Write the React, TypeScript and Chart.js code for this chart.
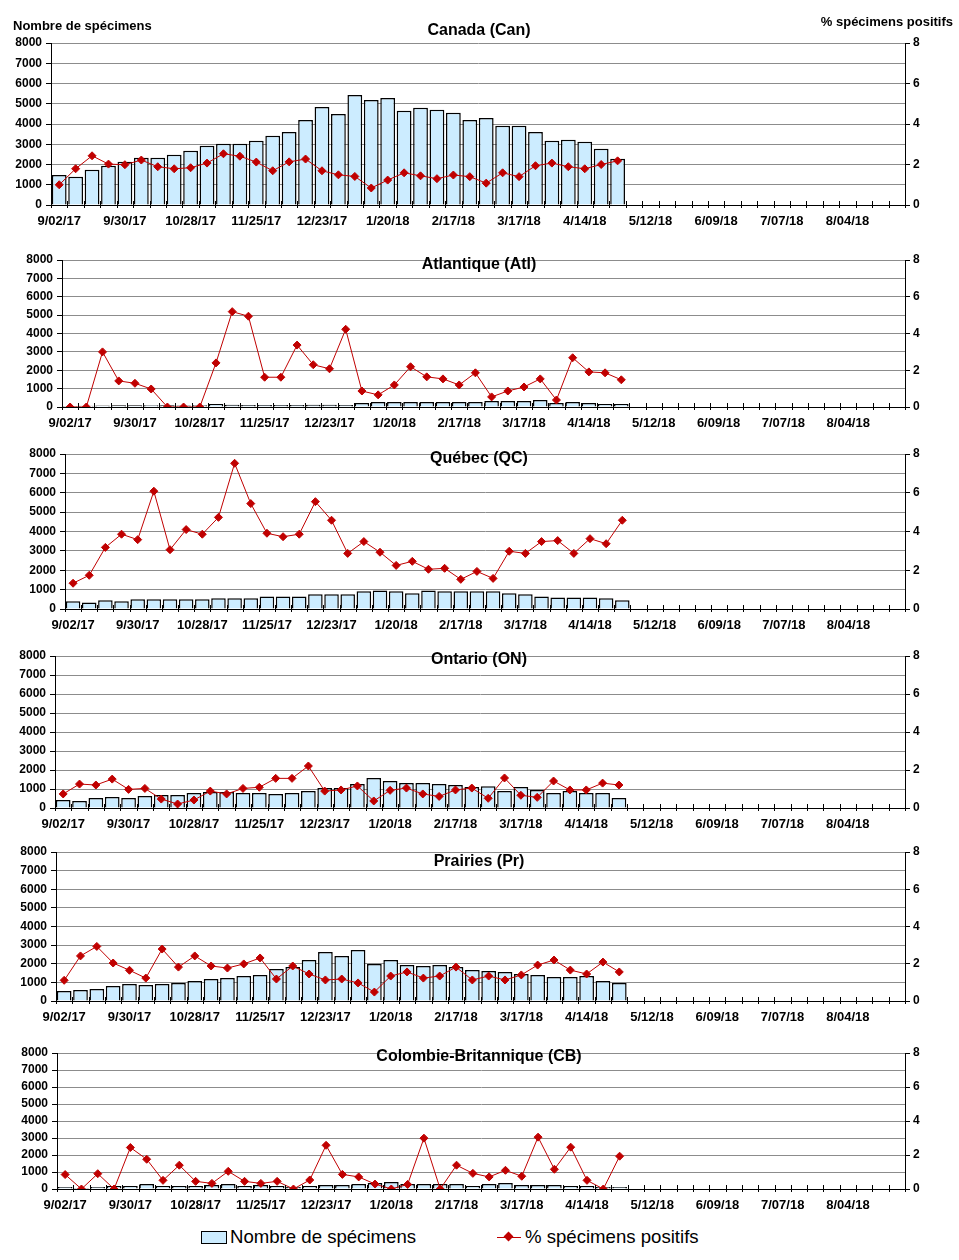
import React, { useEffect, useRef } from "react";
import { Chart, registerables } from "chart.js";

Chart.register(...registerables);

// ---- Categories (weeks) ----
const weeks = [
  "9/02/17", "9/09/17", "9/16/17", "9/23/17", "9/30/17", "10/07/17", "10/14/17", "10/21/17",
  "10/28/17", "11/04/17", "11/11/17", "11/18/17", "11/25/17", "12/02/17", "12/09/17", "12/16/17",
  "12/23/17", "12/30/17", "1/06/18", "1/13/18", "1/20/18", "1/27/18", "2/03/18", "2/10/18",
  "2/17/18", "2/24/18", "3/03/18", "3/10/18", "3/17/18", "3/24/18", "3/31/18", "4/07/18",
  "4/14/18", "4/21/18", "4/28/18", "5/05/18", "5/12/18", "5/19/18", "5/26/18", "6/02/18",
  "6/09/18", "6/16/18", "6/23/18", "6/30/18", "7/07/18", "7/14/18", "7/21/18", "7/28/18",
  "8/04/18", "8/11/18", "8/18/18", "8/25/18",
];

// ---- Series values ----
const canCounts = [1480, 1400, 1740, 1940, 2130, 2330, 2330, 2480, 2680, 2920, 3020, 3020, 3170, 3420, 3610, 4200, 4840, 4500, 5435, 5190, 5290, 4650, 4800, 4700, 4550, 4200, 4300, 3910, 3910, 3610, 3170, 3220, 3120, 2775, 2280];
const canPct = [1.0, 1.79, 2.43, 2.02, 1.99, 2.22, 1.89, 1.79, 1.84, 2.07, 2.53, 2.41, 2.12, 1.69, 2.13, 2.27, 1.69, 1.49, 1.41, 0.84, 1.23, 1.59, 1.44, 1.3, 1.48, 1.4, 1.08, 1.59, 1.4, 1.94, 2.07, 1.89, 1.79, 2.0, 2.18];

const atlCounts = [60, 70, 80, 90, 90, 100, 90, 80, 100, 170, 120, 110, 110, 110, 110, 120, 120, 110, 220, 270, 270, 270, 270, 270, 270, 270, 330, 330, 330, 380, 220, 270, 220, 160, 160];
const atlPct = [0, 0, 3.0, 1.42, 1.29, 0.98, 0, 0, 0, 2.4, 5.19, 4.94, 1.62, 1.62, 3.37, 2.3, 2.08, 4.23, 0.87, 0.66, 1.2, 2.19, 1.64, 1.53, 1.2, 1.86, 0.55, 0.87, 1.09, 1.53, 0.38, 2.68, 1.91, 1.86, 1.48];

const qcCounts = [400, 340, 450, 400, 500, 500, 500, 500, 500, 550, 550, 550, 650, 650, 650, 760, 760, 760, 910, 960, 910, 810, 960, 910, 910, 910, 910, 810, 760, 650, 600, 600, 600, 550, 450];
const qcPct = [1.33, 1.74, 3.18, 3.86, 3.58, 6.08, 3.06, 4.1, 3.86, 4.73, 7.52, 5.44, 3.91, 3.73, 3.86, 5.54, 4.58, 2.87, 3.48, 2.93, 2.25, 2.46, 2.05, 2.1, 1.53, 1.94, 1.58, 2.98, 2.87, 3.48, 3.53, 2.87, 3.63, 3.37, 4.58];

const onCounts = [420, 370, 525, 580, 525, 630, 680, 680, 790, 840, 840, 790, 790, 735, 790, 890, 1050, 1050, 1260, 1575, 1420, 1310, 1310, 1260, 1210, 1100, 1150, 890, 1100, 945, 790, 890, 790, 790, 525];
const onPct = [0.74, 1.26, 1.21, 1.52, 0.98, 1.03, 0.47, 0.21, 0.42, 0.89, 0.74, 1.03, 1.09, 1.56, 1.56, 2.21, 0.89, 0.95, 1.16, 0.37, 0.93, 1.05, 0.74, 0.61, 0.95, 1.05, 0.51, 1.58, 0.67, 0.56, 1.42, 0.95, 0.95, 1.31, 1.21];

const prCounts = [540, 590, 640, 800, 910, 860, 910, 970, 1070, 1180, 1230, 1340, 1395, 1720, 1825, 2200, 2630, 2415, 2740, 1985, 2200, 1930, 1880, 1930, 1825, 1665, 1610, 1555, 1450, 1395, 1290, 1290, 1340, 1070, 970];
const prPct = [1.11, 2.42, 2.93, 2.04, 1.65, 1.23, 2.79, 1.82, 2.42, 1.88, 1.77, 1.99, 2.31, 1.18, 1.88, 1.45, 1.13, 1.18, 0.97, 0.48, 1.34, 1.56, 1.23, 1.34, 1.82, 1.13, 1.34, 1.13, 1.4, 1.93, 2.2, 1.66, 1.45, 2.09, 1.56];

const cbCounts = [120, 60, 120, 180, 180, 290, 180, 180, 180, 240, 290, 180, 240, 180, 120, 180, 240, 240, 290, 350, 410, 290, 290, 290, 290, 180, 290, 350, 240, 240, 240, 180, 180, 120, 120];
const cbPct = [0.85, 0, 0.9, 0, 2.44, 1.75, 0.51, 1.4, 0.45, 0.33, 1.04, 0.45, 0.33, 0.45, 0, 0.53, 2.57, 0.86, 0.71, 0.29, 0, 0.27, 2.99, 0, 1.4, 0.92, 0.71, 1.1, 0.75, 3.05, 1.16, 2.46, 0.51, 0, 1.93];

// ---- Labels ----
const countLabel = "Nombre de spécimens";
const pctLabel = "% spécimens positifs";

// ---- Styles / layout ----
const FONT = "'Liberation Sans', Arial, Helvetica, sans-serif";
const BAR_FILL = "#CCECFF";
const RED = "#C00000";
const GRID = "#8c8c8c";
const PAGE_W = 959;
const PLOT_RIGHT = 905;
const X_AXIS_H = 32;

type PanelCfg = {
  title: string;
  counts: number[];
  pct: number[];
  left: number;
  top: number;
  bottom: number;
  titleY: number;
  padTop: number;
  header?: boolean;
};

const panels: PanelCfg[] = [
  { title: "Canada (Can)", counts: canCounts, pct: canPct, left: 51, top: 43, bottom: 205, titleY: 31, padTop: 40, header: true },
  { title: "Atlantique (Atl)", counts: atlCounts, pct: atlPct, left: 62, top: 260, bottom: 407, titleY: 265, padTop: 14 },
  { title: "Québec (QC)", counts: qcCounts, pct: qcPct, left: 65, top: 454, bottom: 609, titleY: 459, padTop: 14 },
  { title: "Ontario (ON)", counts: onCounts, pct: onPct, left: 55, top: 656, bottom: 808, titleY: 660, padTop: 14 },
  { title: "Prairies (Pr)", counts: prCounts, pct: prPct, left: 56, top: 852, bottom: 1001, titleY: 862, padTop: 14 },
  { title: "Colombie-Britannique (CB)", counts: cbCounts, pct: cbPct, left: 57, top: 1053, bottom: 1189, titleY: 1057, padTop: 14 },
];

function Panel({ cfg }: { cfg: PanelCfg }) {
  const ref = useRef<HTMLCanvasElement>(null);
  const canvasTop = cfg.top - cfg.padTop;
  const height = cfg.bottom - cfg.top + cfg.padTop + X_AXIS_H;

  useEffect(() => {
    if (!ref.current) return;
    const overlay = {
      id: "overlay",
      afterDraw(chart: any) {
        const ctx = chart.ctx;
        const xs = chart.scales.x;
        const { bottom } = chart.chartArea;
        const n = chart.data.labels.length;
        const step = xs.getPixelForValue(1) - xs.getPixelForValue(0);
        ctx.save();
        ctx.strokeStyle = "#000";
        ctx.lineWidth = 1;
        ctx.beginPath();
        for (let i = 0; i <= n; i++) {
          const x = Math.round(xs.getPixelForValue(0) - step / 2 + i * step) + 0.5;
          ctx.moveTo(x, bottom - 4);
          ctx.lineTo(x, bottom + 3);
        }
        ctx.stroke();
        ctx.fillStyle = "#000";
        ctx.textBaseline = "middle";
        ctx.font = `bold 16px ${FONT}`;
        ctx.textAlign = "center";
        ctx.fillText(cfg.title, 479, cfg.titleY - canvasTop);
        if (cfg.header) {
          ctx.font = `bold 13px ${FONT}`;
          ctx.textAlign = "left";
          ctx.fillText(countLabel, 13, 26 - canvasTop);
          ctx.textAlign = "right";
          ctx.fillText(pctLabel, 953, 22 - canvasTop);
        }
        ctx.restore();
      },
    };

    const chart = new Chart(ref.current, {
      type: "bar",
      data: {
        labels: weeks,
        datasets: [
          {
            type: "line",
            label: pctLabel,
            data: cfg.pct,
            yAxisID: "y1",
            borderColor: RED,
            backgroundColor: RED,
            borderWidth: 1,
            pointStyle: "rectRot",
            pointRadius: 4,
            pointBorderWidth: 1,
            pointBackgroundColor: RED,
            pointBorderColor: RED,
            order: 0,
          } as any,
          {
            type: "bar",
            label: countLabel,
            data: cfg.counts,
            yAxisID: "y",
            backgroundColor: BAR_FILL,
            borderColor: "#000",
            borderWidth: 1.5,
            barPercentage: 0.9,
            categoryPercentage: 1,
            order: 1,
          } as any,
        ],
      },
      options: {
        responsive: false,
        devicePixelRatio: 1,
        animation: false,
        layout: { padding: { top: cfg.padTop, left: 0, right: 0, bottom: 0 } },
        plugins: { legend: { display: false }, tooltip: { enabled: false }, title: { display: false } },
        scales: {
          x: {
            offset: true,
            grid: { display: false, drawTicks: false },
            border: { display: true, color: "#000", width: 1 },
            ticks: {
              autoSkip: false,
              maxRotation: 0,
              minRotation: 0,
              padding: 9,
              color: "#000",
              font: { family: FONT, size: 13, weight: "bold" },
              callback: (_v: any, i: number) => (i % 4 === 0 ? weeks[i] : ""),
            },
            afterFit: (s: any) => {
              s.height = X_AXIS_H;
            },
          },
          y: {
            position: "left",
            min: 0,
            max: 8000,
            grid: { color: GRID, lineWidth: 1, drawTicks: true, tickLength: 5, tickColor: "#000" },
            border: { display: true, color: "#000", width: 1 },
            ticks: {
              stepSize: 1000,
              autoSkip: false,
              padding: 4,
              color: "#000",
              font: { family: FONT, size: 12, weight: "bold" },
              callback: (v: any) => String(v),
            },
            afterFit: (s: any) => {
              s.width = cfg.left;
            },
          },
          y1: {
            position: "right",
            min: 0,
            max: 8,
            grid: { drawOnChartArea: false, drawTicks: true, tickLength: 5, tickColor: "#000" },
            border: { display: true, color: "#000", width: 1 },
            ticks: {
              stepSize: 2,
              autoSkip: false,
              padding: 3,
              color: "#000",
              font: { family: FONT, size: 12, weight: "bold" },
              callback: (v: any) => String(v),
            },
            afterFit: (s: any) => {
              s.width = PAGE_W - PLOT_RIGHT;
            },
          },
        },
      } as any,
      plugins: [overlay],
    });
    return () => chart.destroy();
  }, []);

  return (
    <div style={{ position: "absolute", left: 0, top: canvasTop, width: PAGE_W, height }}>
      <canvas ref={ref} width={PAGE_W} height={height} style={{ width: PAGE_W, height, display: "block" }} />
    </div>
  );
}

function Legend() {
  const textStyle: React.CSSProperties = {
    position: "absolute",
    top: 1226,
    fontFamily: FONT,
    fontSize: 18.6,
    lineHeight: "22px",
    color: "#000",
    whiteSpace: "nowrap",
  };
  return (
    <>
      <div
        style={{
          position: "absolute",
          left: 201,
          top: 1231,
          width: 24,
          height: 11,
          background: BAR_FILL,
          border: "1px solid #000",
        }}
      />
      <div style={{ ...textStyle, left: 230 }}>{countLabel}</div>
      <div style={{ position: "absolute", left: 497, top: 1237, width: 24, height: 1, background: RED }} />
      <div
        style={{
          position: "absolute",
          left: 505,
          top: 1233,
          width: 7,
          height: 7,
          background: RED,
          transform: "rotate(45deg)",
        }}
      />
      <div style={{ ...textStyle, left: 525 }}>{pctLabel}</div>
    </>
  );
}

export default function App() {
  return (
    <div style={{ position: "absolute", left: 0, top: 0, width: PAGE_W, height: 1260, background: "#fff" }}>
      {panels.map((p) => (
        <Panel key={p.title} cfg={p} />
      ))}
      <Legend />
    </div>
  );
}
